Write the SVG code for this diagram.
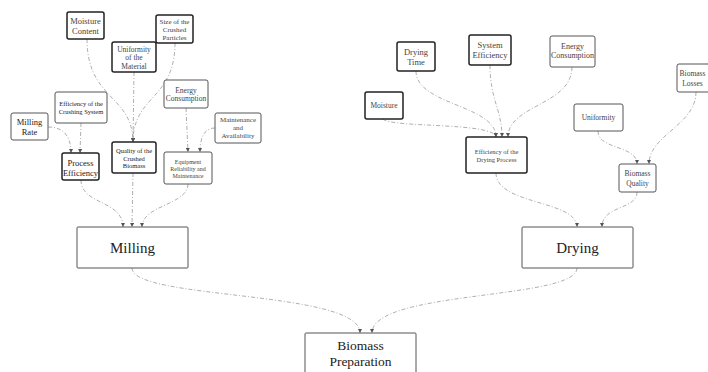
<svg xmlns="http://www.w3.org/2000/svg" width="708" height="372" viewBox="0 0 708 372">
<style>
.n{fill:#fff;stroke:#555;stroke-width:1}
.k{fill:#fff;stroke:#222;stroke-width:1.5}
.t{font-family:"Liberation Serif",serif;fill:#444;text-anchor:middle}
.d{fill:#222}
.c{fill:none;stroke:#9a9a9a;stroke-width:0.8;stroke-dasharray:4 2 1 2;marker-end:url(#a)}
</style>
<defs>
<marker id="a" viewBox="0 0 6 6" refX="6" refY="3" markerWidth="4" markerHeight="4" orient="auto" markerUnits="userSpaceOnUse">
<path d="M0,0 L6,3 L0,6 z" fill="#555"/>
</marker>
</defs>
<rect width="708" height="372" fill="#fff"/>
<g id="connectors">
<path class="c" d="M87,39 C87,100 133,95 133,142"/>
<path class="c" d="M134,72 L133,142"/>
<path class="c" d="M175,43 C175,100 133,95 133,142"/>
<path class="c" d="M81,123 L80,153"/>
<path class="c" d="M48,127 C65,127 71,138 71,153"/>
<path class="c" d="M186,108 L188,152"/>
<path class="c" d="M215,128 C203,128 200,140 200,152"/>
<path class="c" d="M81,180 C81,205 123,200 123,227"/>
<path class="c" d="M133,173 L132,227"/>
<path class="c" d="M188,184 C188,205 142,205 142,227"/>
<path class="c" d="M132,268 C132,300 360,290 360,333"/>
<path class="c" d="M577,268 C577,300 372,290 372,333"/>
<path class="c" d="M416,71 C416,105 496,105 496,137"/>
<path class="c" d="M490,65 C490,100 502,110 502,137"/>
<path class="c" d="M572,67 C572,105 508,105 508,137"/>
<path class="c" d="M383,119 C390,128 494,122 496,137"/>
<path class="c" d="M496,173 C496,205 577,200 577,227"/>
<path class="c" d="M637,192 C637,210 602,205 602,227"/>
<path class="c" d="M598,131 C598,150 637,145 637,164"/>
<path class="c" d="M696,92 C696,125 649,135 649,164"/>
</g>
<g id="moisture-content"><rect class="k" x="67" y="12" width="37" height="27" rx="2"/><text class="t" font-size="8.5"><tspan x="85.5" y="24">Moisture</tspan><tspan x="85.5" y="34">Content</tspan></text></g>
<g id="size-particles"><rect class="k" x="156" y="15" width="37" height="28" rx="2"/><text class="t" font-size="7"><tspan x="174.5" y="24">Size of the</tspan><tspan x="174.5" y="32">Crushed</tspan><tspan x="174.5" y="40">Particles</tspan></text></g>
<g id="uniformity-material"><rect class="k" x="112" y="42" width="44" height="30" rx="2"/><text class="t" font-size="7.5"><tspan x="134" y="52">Uniformity</tspan><tspan x="134" y="60">of the</tspan><tspan x="134" y="69">Material</tspan></text></g>
<g id="efficiency-crushing"><rect class="n" x="55" y="92" width="52" height="31" rx="2"/><text class="t d" font-size="6.5"><tspan x="81" y="106">Efficiency of the</tspan><tspan x="81" y="114">Crushing System</tspan></text></g>
<g id="milling-rate"><rect class="n" x="11" y="113" width="37" height="27" rx="2"/><text class="t d" font-size="8.5"><tspan x="29.5" y="125">Milling</tspan><tspan x="29.5" y="135">Rate</tspan></text></g>
<g id="process-efficiency"><rect class="k" x="62" y="153" width="37" height="27" rx="2"/><text class="t d" font-size="8.5"><tspan x="80.5" y="166">Process</tspan><tspan x="80.5" y="176">Efficiency</tspan></text></g>
<g id="quality-crushed"><rect class="k" x="112" y="142" width="44" height="31" rx="2"/><text class="t d" font-size="6.5"><tspan x="134" y="153">Quality of the</tspan><tspan x="134" y="161">Crushed</tspan><tspan x="134" y="168">Biomass</tspan></text></g>
<g id="energy-left"><rect class="n" x="164" y="80" width="44" height="28" rx="2"/><text class="t" font-size="7.5"><tspan x="186" y="93">Energy</tspan><tspan x="186" y="101">Consumption</tspan></text></g>
<g id="equipment"><rect class="n" x="164" y="152" width="48" height="32" rx="2"/><text class="t" font-size="6"><tspan x="188" y="164">Equipment</tspan><tspan x="188" y="171">Reliability and</tspan><tspan x="188" y="178">Maintenance</tspan></text></g>
<g id="maintenance"><rect class="n" x="215" y="113" width="46" height="30" rx="2"/><text class="t" font-size="7"><tspan x="238" y="122">Maintenance</tspan><tspan x="238" y="130">and</tspan><tspan x="238" y="138">Availability</tspan></text></g>
<g id="milling"><rect class="n" x="77" y="227" width="111" height="41" rx="1"/><text class="t d" font-size="15" x="132.5" y="253">Milling</text></g>
<g id="drying-time"><rect class="k" x="397" y="42" width="38" height="29" rx="2"/><text class="t" font-size="8.5"><tspan x="416" y="55">Drying</tspan><tspan x="416" y="65">Time</tspan></text></g>
<g id="system-efficiency"><rect class="k" x="469" y="35" width="42" height="30" rx="2"/><text class="t" font-size="8.5"><tspan x="490" y="48">System</tspan><tspan x="490" y="58">Efficiency</tspan></text></g>
<g id="energy-right"><rect class="n" x="550" y="36" width="45" height="31" rx="2"/><text class="t" font-size="8"><tspan x="572.5" y="49">Energy</tspan><tspan x="572.5" y="58">Consumption</tspan></text></g>
<g id="moisture"><rect class="k" x="365" y="92" width="38" height="27" rx="2"/><text class="t" font-size="7.5" x="384" y="108">Moisture</text></g>
<g id="efficiency-drying"><rect class="k" x="466" y="137" width="61" height="36" rx="2"/><text class="t" font-size="6.5"><tspan x="496.5" y="154">Efficiency of the</tspan><tspan x="496.5" y="162">Drying Process</tspan></text></g>
<g id="uniformity"><rect class="n" x="574" y="104" width="49" height="27" rx="2"/><text class="t" font-size="7.5" x="598.5" y="120">Uniformity</text></g>
<g id="biomass-losses"><rect class="n" x="677" y="64" width="38" height="28" rx="2"/><text class="t" font-size="7.5"><tspan x="692.5" y="76">Biomass</tspan><tspan x="692.5" y="86">Losses</tspan></text></g>
<g id="biomass-quality"><rect class="n" x="619" y="164" width="37" height="28" rx="2"/><text class="t" font-size="7.5"><tspan x="637.5" y="176">Biomass</tspan><tspan x="637.5" y="186">Quality</tspan></text></g>
<g id="drying"><rect class="n" x="522" y="227" width="111" height="41" rx="1"/><text class="t d" font-size="15" x="577.5" y="253">Drying</text></g>
<g id="biomass-preparation"><rect class="n" x="305" y="333" width="111" height="44" rx="1"/><text class="t d" font-size="13.5"><tspan x="360.5" y="350">Biomass</tspan><tspan x="360.5" y="366">Preparation</tspan></text></g>
</svg>
